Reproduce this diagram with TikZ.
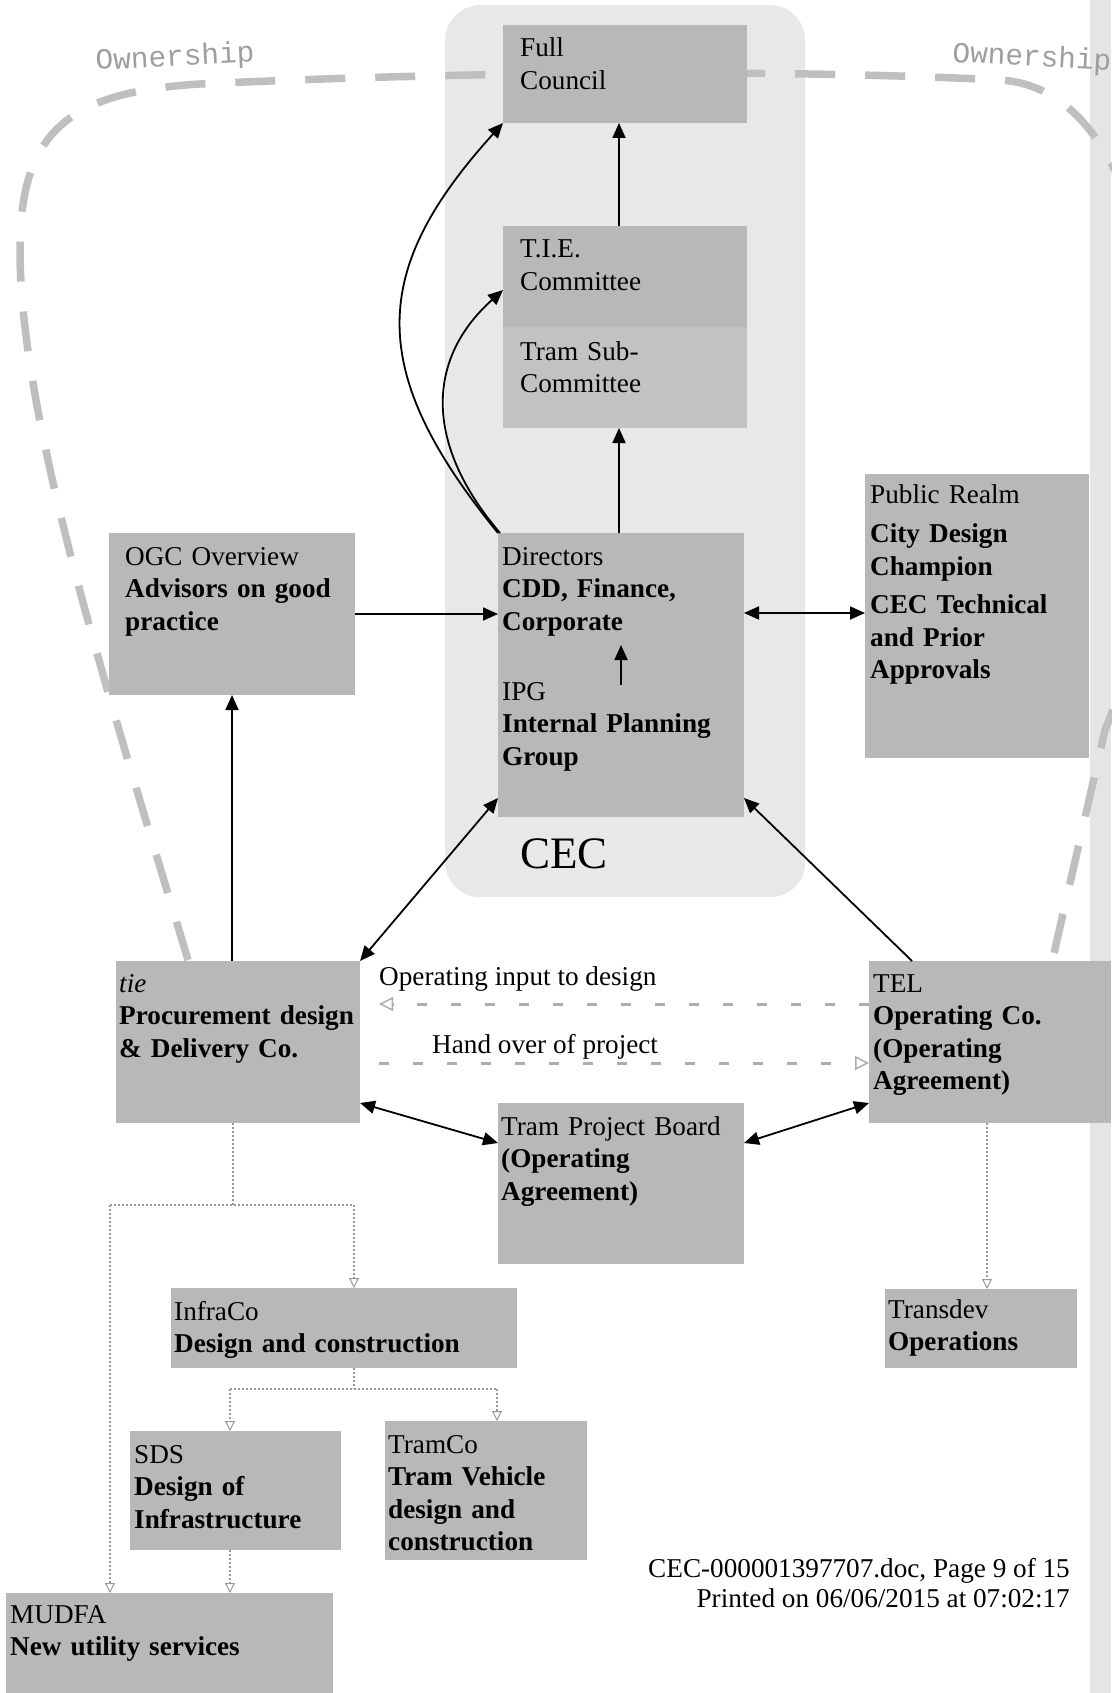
\documentclass[tikz,border=0pt]{standalone}
\usepackage{fontspec}
\setmainfont{Liberation Serif}
\newfontfamily\ownfont{Liberation Mono}
\usetikzlibrary{arrows.meta,calc}
\newcommand\bodyfont{\fontsize{27.2}{32.5}\selectfont}
\begin{document}
\begin{tikzpicture}[x=1pt,y=-1pt,
  box/.style n args={2}{fill=black!28, inner sep=0pt, outer sep=0pt, anchor=north west, minimum width=#1, minimum height=#2},
  txt/.style={anchor=base west, inner sep=0pt, text width=500pt, align=left, font=\bodyfont},
  lbl/.style={anchor=base west, inner sep=0pt, font=\bodyfont},
  owntxt/.style={anchor=base west, inner sep=0pt, text=black!38, font=\ownfont\fontsize{29.4}{30}\selectfont},
  arr/.style={-{Triangle[length=15pt,width=13pt]}, line width=1.8pt},
  darr/.style={{Triangle[length=15pt,width=13pt]}-{Triangle[length=15pt,width=13pt]}, line width=1.8pt},
  lda/.style={draw=black!32, line width=3pt, dash pattern=on 10pt off 24pt, -{Triangle[open,length=14pt,width=14pt,line width=1.5pt]}},
  dot/.style={draw=black!40, line width=1.2pt, dash pattern=on 2pt off 2pt},
  dota/.style={dot, -{Triangle[open,length=10pt,width=10pt,line width=1pt]}},
  own/.style={draw=black!25, line width=7.5pt, dash pattern=on 40pt off 30pt}
]
\useasboundingbox (0,0) rectangle (1111,1693);
% backgrounds
\node[fill=black!10, inner sep=0pt, anchor=north west, minimum width=21pt, minimum height=1693pt] (strip) at (1090,0) {};
\node[fill=black!9, rounded corners=35pt, inner sep=0pt, anchor=north west, minimum width=360pt, minimum height=892pt] (cecbg) at (445,5) {};
% ownership loop
\draw[own] (188,960) .. controls (110,700) and (20,420) .. (20,250) .. controls (20,130) and (70,92) .. (200,84) .. controls (500,70) and (800,70) .. (1000,80) .. controls (1180,90) and (1200,500) .. (1105,730) -- (1052,962);
\node[owntxt, rotate=3] (own1) at (96,70) {Ownership};
\node[owntxt, rotate=-3] (own2) at (952,62) {Ownership};
% boxes
\node[box={244pt}{98pt}] (fc) at (503,25) {};
\node[box={244pt}{101pt}] (tc) at (503,226) {};
\node[box={244pt}{101pt}, fill=black!24] (tsc) at (503,327) {};
\node[box={246pt}{284pt}] (dir) at (498,533) {};
\node[box={246pt}{162pt}] (ogc) at (109,533) {};
\node[box={224pt}{284pt}] (pr) at (865,474) {};
\node[box={244pt}{162pt}] (tie) at (116,961) {};
\node[box={242pt}{162pt}] (tel) at (869,961) {};
\node[box={246pt}{161pt}] (tpb) at (498,1103) {};
\node[box={346pt}{80pt}] (infra) at (171,1288) {};
\node[box={211pt}{119pt}] (sds) at (130,1431) {};
\node[box={202pt}{139pt}] (tramco) at (385,1421) {};
\node[box={327pt}{100pt}] (mudfa) at (6,1593) {};
\node[box={192pt}{79pt}] (transdev) at (885,1289) {};
% texts
\node[txt] (fct) at (520,57) {Full\\Council};
\node[txt] (tct) at (520,258) {T.I.E.\\Committee};
\node[txt] (tsct) at (520,360) {Tram Sub-\\Committee};
\node[txt] (dirt) at (502,565) {Directors\\\textbf{CDD, Finance,}\\\textbf{Corporate}};
\node[txt] (ipgt) at (502,700) {IPG\\\textbf{Internal Planning}\\\textbf{Group}};
\node[txt] (ogct) at (125,565) {OGC Overview\\\textbf{Advisors on good}\\\textbf{practice}};
\node[txt] (prt) at (870,503) {Public Realm\\[7pt]\textbf{City Design}\\\textbf{Champion}\\[6pt]\textbf{CEC Technical}\\\textbf{and Prior}\\\textbf{Approvals}};
\node[txt] (tiet) at (119,992) {\textit{tie}\\\textbf{Procurement design}\\\textbf{\& Delivery Co.}};
\node[txt] (telt) at (873,992) {TEL\\\textbf{Operating Co.}\\\textbf{(Operating}\\\textbf{Agreement)}};
\node[txt] (tpbt) at (501,1135) {Tram Project Board\\\textbf{(Operating}\\\textbf{Agreement)}};
\node[txt] (infrat) at (174,1320) {InfraCo\\\textbf{Design and construction}};
\node[txt] (sdst) at (134,1463) {SDS\\\textbf{Design of}\\\textbf{Infrastructure}};
\node[txt] (tramcot) at (388,1453) {TramCo\\\textbf{Tram Vehicle}\\\textbf{design and}\\\textbf{construction}};
\node[txt] (mudfat) at (10,1623) {MUDFA\\\textbf{New utility services}};
\node[txt] (transdevt) at (888,1318) {Transdev\\\textbf{Operations}};
\node[anchor=base west, inner sep=0pt, font=\fontsize{45}{50}\selectfont] (cect) at (520,868) {CEC};
\node[lbl] (opl) at (379,985) {Operating input to design};
\node[lbl] (hol) at (432,1053) {Hand over of project};
\node[lbl, anchor=base east] (f1) at (1070,1577) {CEC-000001397707.doc, Page 9 of 15};
\node[lbl, anchor=base east] (f2) at (1070,1607) {Printed on 06/06/2015 at 07:02:17};
% solid connectors
\coordinate (ax) at (619,0);
\draw[arr] (dir.north west) .. controls (365,370) and (370,270) .. (fc.south west);
\draw[arr] ([xshift=2pt]dir.north west) .. controls (425,445) and (425,360) .. ([yshift=37pt]tc.south west);
\draw[arr] (ax |- tc.north) -- (ax |- fc.south);
\draw[arr] (ax |- dir.north) -- (ax |- tsc.south);
\draw[arr] (ogc.east) -- (ogc.east -| dir.west);
\draw[arr] ([yshift=-152pt]dir.north) -- ([yshift=-112pt]dir.north);
\coordinate (prl) at ([yshift=-80pt]dir.north east);
\draw[darr] (prl) -- (prl -| pr.west);
\draw[darr] (tie.north east) -- ([yshift=19pt]dir.south west);
\draw[arr] ([xshift=43pt]tel.north west) -- ([yshift=19pt]dir.south east);
\draw[arr] (ogc.south |- tie.north) -- (ogc.south);
\draw[darr] ([yshift=20pt]tie.south east) -- ([yshift=-40pt]tpb.north west);
\draw[darr] ([yshift=20pt]tel.south west) -- ([yshift=-40pt]tpb.north east);
% light dashed arrows
\coordinate (opL) at (379,1004);
\coordinate (hoL) at (379,1063);
\draw[lda] ([yshift=-43pt]tel.north west) -- (opL);
\draw[lda] (hoL) -- (hoL -| tel.west);
% dotted tree
\coordinate (j1) at (233,1205);
\coordinate (jm) at (110,1205);
\coordinate (js) at (354,1205);
\draw[dot] (j1 |- tie.south) -- (j1);
\draw[dot] (jm) -- (js);
\draw[dota] (js) -- (js |- infra.north);
\draw[dota] (jm) -- (jm |- mudfa.north);
\coordinate (k1) at (354,1389);
\coordinate (kl) at (230,1389);
\coordinate (kr) at (497,1389);
\draw[dot] (k1 |- infra.south) -- (k1);
\draw[dot] (kl) -- (kr);
\draw[dota] (kl) -- (kl |- sds.north);
\draw[dota] (kr) -- (kr |- tramco.north);
\draw[dota] (kl |- sds.south) -- (kl |- mudfa.north);
\coordinate (t1) at (987,1123);
\draw[dota] (t1 |- tel.south) -- (t1 |- transdev.north);
\end{tikzpicture}
\end{document}
